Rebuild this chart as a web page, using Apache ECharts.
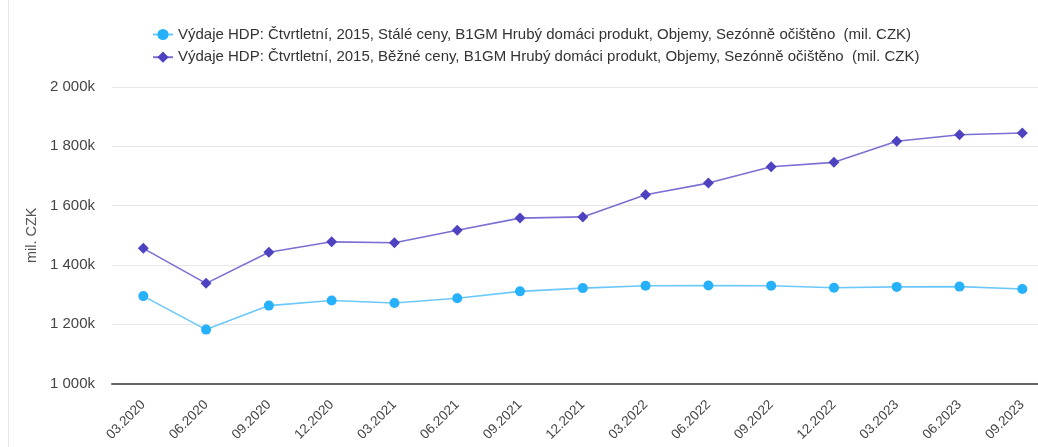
<!DOCTYPE html>
<html><head><meta charset="utf-8">
<script src="https://cdn.jsdelivr.net/npm/echarts@6/dist/echarts.min.js"></script>
<style>html,body{margin:0;padding:0;background:#fff}#c{width:1038px;height:447px}</style>
</head><body><div id="c"></div>
<script>
const categories = ["03.2020","06.2020","09.2020","12.2020","03.2021","06.2021","09.2021","12.2021","03.2022","06.2022","09.2022","12.2022","03.2023","06.2023","09.2023"];
const seriesNames = [
  "Výdaje HDP: Čtvrtletní, 2015, Stálé ceny, B1GM Hrubý domáci produkt, Objemy, Sezónně očištěno  (mil. CZK)",
  "Výdaje HDP: Čtvrtletní, 2015, Běžné ceny, B1GM Hrubý domáci produkt, Objemy, Sezónně očištěno  (mil. CZK)"
];
const constantPrices = [1295000,1182000,1263000,1280000,1272000,1288000,1311000,1322000,1330000,1331000,1330000,1323000,1326000,1327000,1319000];
const currentPrices = [1456000,1338000,1443000,1478000,1475000,1517000,1558000,1562000,1637000,1676000,1731000,1746000,1817000,1839000,1845000];
const yTicks = {min:1000000, max:2000000, interval:200000};
const yAxisName = "mil. CZK";

function fmt(v){
  const k = Math.round(v/1000);
  return String(k).replace(/\B(?=(\d{3})+(?!\d))/g, " ") + "k";
}
const chart = echarts.init(document.getElementById('c'));
const font = "'Liberation Sans', Arial, sans-serif";
const gridTop = 87, gridBottom = 63.4;
chart.setOption({
  animation:false,
  textStyle:{fontFamily:font},
  graphic:[{type:'line',shape:{x1:8.5,y1:0,x2:8.5,y2:447},style:{stroke:'#e6e6e6',lineWidth:1}}],
  legend:{
    orient:'vertical', left:147, top:22, itemGap:7.7, itemWidth:20, itemHeight:14,
    textStyle:{fontSize:15,lineHeight:15,color:'#333',fontFamily:font},
    data:seriesNames
  },
  grid:[
    {left:112,right:0,top:gridTop,bottom:gridBottom,containLabel:false},
    {left:143.3,right:15.7,top:gridTop,bottom:gridBottom,containLabel:false}
  ],
  xAxis:[
    {gridIndex:0, type:'value', min:0, max:1, axisLabel:{show:false}, axisTick:{show:false}, splitLine:{show:false},
     axisLine:{show:true, lineStyle:{color:'#666', width:2}}},
    {gridIndex:1, type:'category', data:categories, boundaryGap:false,
     axisLine:{show:false}, axisTick:{show:false}, splitLine:{show:false},
     axisLabel:{rotate:45, fontSize:13.5, color:'#444', margin:19, fontFamily:font, interval:0}}
  ],
  yAxis:[
    {gridIndex:0, type:'value', min:yTicks.min, max:yTicks.max, interval:yTicks.interval,
     name:yAxisName, nameLocation:'middle', nameGap:72,
     nameTextStyle:{fontSize:14.5,color:'#555',fontFamily:font},
     axisLabel:{formatter:fmt, fontSize:15, color:'#444', margin:17, fontFamily:font},
     splitLine:{lineStyle:{color:'#e8e8e8',width:1}},
     axisLine:{show:false}, axisTick:{show:false}},
    {gridIndex:1, type:'value', min:yTicks.min, max:yTicks.max, interval:yTicks.interval,
     axisLabel:{show:false}, splitLine:{show:false}, axisLine:{show:false}, axisTick:{show:false}}
  ],
  series:[
    {name:seriesNames[0], type:'line', xAxisIndex:1, yAxisIndex:1, data:constantPrices, symbol:'circle', symbolSize:10,
     itemStyle:{color:'#27b1fb'}, lineStyle:{color:'#6cc8fb',width:1.6}, z:3},
    {name:seriesNames[1], type:'line', xAxisIndex:1, yAxisIndex:1, data:currentPrices, symbol:'diamond', symbolSize:11,
     itemStyle:{color:'#4e42c0'}, lineStyle:{color:'#7a6fd2',width:1.6}, z:3}
  ]
});
</script></body></html>
